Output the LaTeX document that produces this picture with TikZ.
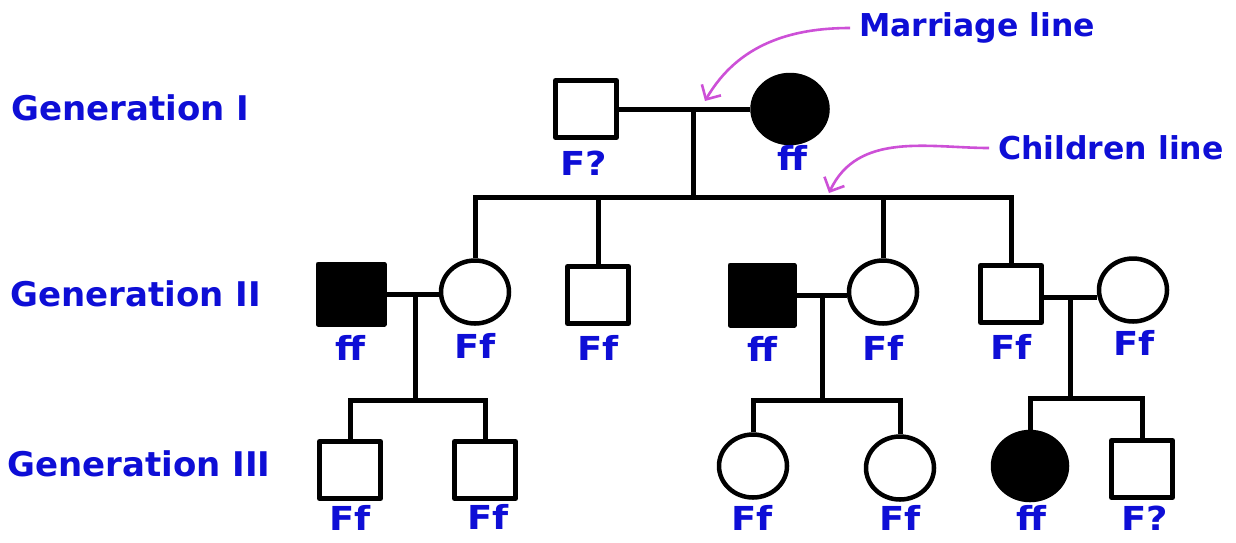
\documentclass[tikz,border=0pt]{standalone}
\usepackage{fontspec}
\setmainfont{DejaVu Sans}
\newfontfamily\genofont{DejaVu Sans}[FakeStretch=1.12]
\usetikzlibrary{shapes.geometric,arrows.meta}
\definecolor{gblue}{RGB}{14,14,214}
\definecolor{notepink}{RGB}{205,80,215}
\tikzset{
  link/.style={line width=5pt},
  male/.style={draw, line width=5pt, line join=round, minimum width=61pt, minimum height=57pt, inner sep=0pt},
  female/.style={draw, ellipse, line width=4.5pt, minimum width=68pt, minimum height=63pt, inner sep=0pt},
  affected/.style={fill=black},
  geno/.style={text=gblue, font=\genofont\fontsize{33}{33}\selectfont\bfseries, inner sep=0pt},
  genlabel/.style={text=gblue, anchor=west, font=\fontsize{34}{34}\selectfont\bfseries, inner sep=0pt},
  note/.style={text=gblue, anchor=west, font=\fontsize{31.5}{31.5}\selectfont\bfseries, inner sep=0pt},
  pointer/.style={draw=notepink, line width=2.6pt, shorten <=9pt, -{Straight Barb[length=11pt,width=22pt,line width=2.6pt]}}
}
\begin{document}
\begin{tikzpicture}[x=1pt,y=-1pt]
\useasboundingbox (0,0) rectangle (1236,542);

% generation labels
\node[genlabel] (g1) at (11,108) {Generation I};
\node[genlabel] (g2) at (10,294) {Generation II};
\node[genlabel] (g3) at (7,464) {Generation III};

% generation I
\node[male] (I1) at (586,109) {};
\node[female, affected, minimum width=75pt, minimum height=68pt] (I2) at (790,109) {};
\node[geno] (tI1) at (584,163) {F?};
\node[geno] (tI2) at (792,158) {ff};
\coordinate (m1) at (693,109);
\coordinate (c1) at (693,197);

% generation II
\node[male, affected, minimum width=66pt, minimum height=60pt] (II1) at (351,294) {};
\node[female] (II2) at (475,292) {};
\node[male] (II3) at (598,295) {};
\node[male, affected, minimum width=64pt, minimum height=60pt] (II4) at (762,295) {};
\node[female] (II5) at (883,292) {};
\node[male] (II6) at (1011,294) {};
\node[female] (II7) at (1133,290) {};
\node[geno] (tII1) at (350,348) {ff};
\node[geno] (tII2) at (475,346) {Ff};
\node[geno] (tII3) at (598,348) {Ff};
\node[geno] (tII4) at (762,349) {ff};
\node[geno] (tII5) at (883,348) {Ff};
\node[geno] (tII6) at (1011,347) {Ff};
\node[geno] (tII7) at (1134,343) {Ff};
\coordinate (m2) at (415,294);
\coordinate (c2) at (415,400);
\coordinate (m3) at (822,295);
\coordinate (c3) at (822,400);
\coordinate (m4) at (1070,297);
\coordinate (c4) at (1070,398);

% generation III
\node[male] (III1) at (350,470) {};
\node[male] (III2) at (485,470) {};
\node[female] (III3) at (753,466) {};
\node[female] (III4) at (900,468) {};
\node[female, affected, minimum width=74pt, minimum height=68pt] (III5) at (1030,466) {};
\node[male] (III6) at (1142,469) {};
\node[geno] (tIII1) at (350,518) {Ff};
\node[geno] (tIII2) at (488,517) {Ff};
\node[geno] (tIII3) at (752,518) {Ff};
\node[geno] (tIII4) at (900,518) {Ff};
\node[geno] (tIII5) at (1031,518) {ff};
\node[geno] (tIII6) at (1145,518) {F?};

% marriage lines
\draw[link] (I1.east) -- (I2.west);
\draw[link] (II1.east) -- (II1.east -| II2.west);
\draw[link] (II4.east) -- (II4.east -| II5.west);
\draw[link] (II6.east |- m4) -- (m4 -| II7.west);

% descent lines
\draw[link] (m1) -- (c1);
\draw[link] (II2.north) |- (c1) -| (II6.north);
\draw[link] (II3.north) -- (II3.north |- c1);
\draw[link] (II5.north) -- (II5.north |- c1);
\draw[link] (m2) -- (c2);
\draw[link] (III1.north) |- (c2) -| (III2.north);
\draw[link] (m3) -- (c3);
\draw[link] (III3.north) |- (c3) -| (III4.north);
\draw[link] (m4) -- (c4);
\draw[link] (III5.north) |- (c4) -| (III6.north);

% annotations
\node[note] (n1) at (859,28) {Marriage line};
\node[note] (n2) at (998,148) {Children line};
\coordinate (p1) at (705,101);
\coordinate (p2) at (829,193);
\draw[pointer] (n1.west) to[out=180,in=60] (p1);
\draw[pointer] (n2.west) to[out=180,in=65] (p2);
\end{tikzpicture}
\end{document}
